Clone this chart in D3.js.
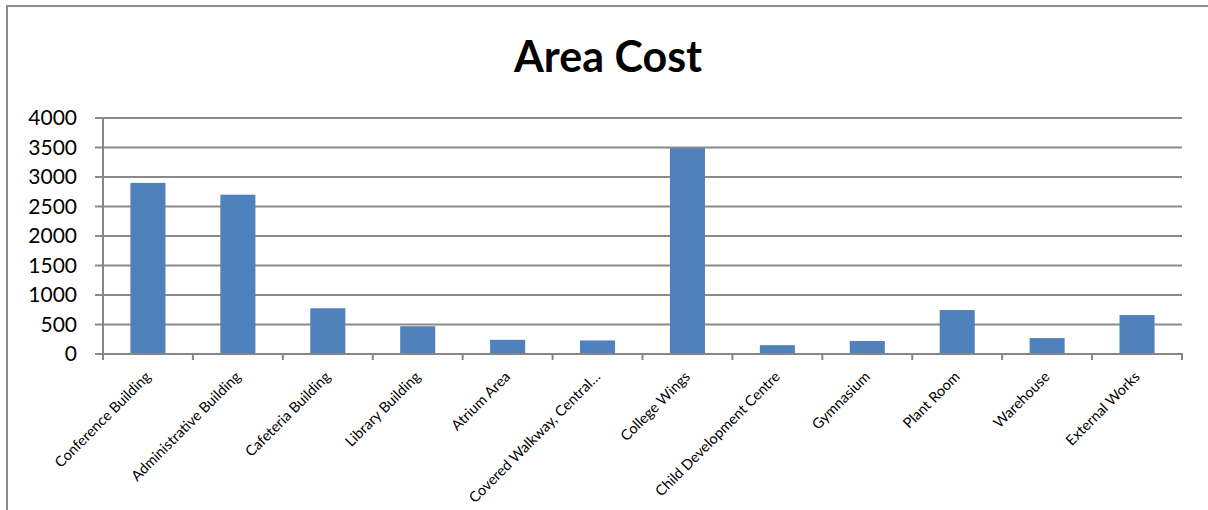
<!DOCTYPE html>
<html>
<head>
<meta charset="utf-8">
<script src="https://cdn.jsdelivr.net/npm/d3@7"></script>
<style>
  body { margin: 0; background: #fff; }
  text { font-family: Lato, "Open Sans", sans-serif; }
</style>
</head>
<body>
<div class="chart"></div>
<script>
var width = 1208,
    height = 510;

var categories = ["Conference Building", "Administrative Building", "Cafeteria Building",
  "Library Building", "Atrium Area", "Covered Walkway, Central\u2026", "College Wings",
  "Child Development Centre", "Gymnasium", "Plant Room", "Warehouse", "External Works"];
var costs = [2900, 2700, 775, 470, 240, 230, 3490, 150, 220, 745, 270, 660];
var yTicks = [0, 500, 1000, 1500, 2000, 2500, 3000, 3500, 4000];

var plotLeft = 103, plotRight = 1182, plotTop = 118, plotBottom = 354;

var svg = d3.select(".chart").append("svg")
    .attr("width", width)
    .attr("height", height);

// chart frame (only top and left edges are visible)
svg.append("path")
    .attr("d", "M7,510 V6 H1208")
    .style("fill", "none")
    .style("stroke", "#8c8c8c")
    .style("stroke-width", 2);

svg.append("text")
    .attr("x", 608)
    .attr("y", 72)
    .attr("text-anchor", "middle")
    .style("font-size", "43px")
    .style("font-weight", "bold")
    .text("Area Cost");

var x = d3.scaleBand()
    .domain(categories)
    .range([plotLeft, plotRight])
    .paddingInner(0.61)
    .paddingOuter(0.305);

var xTick = d3.scaleBand()
    .domain(categories)
    .range([plotLeft, plotRight]);

var y = d3.scaleLinear()
    .domain([0, 4000])
    .range([plotBottom, plotTop]);

// gridlines
svg.append("g")
    .selectAll("line")
    .data(yTicks)
    .join("line")
    .attr("x1", plotLeft - 8)
    .attr("x2", plotRight)
    .attr("y1", d => y(d))
    .attr("y2", d => y(d))
    .style("stroke", "#8a8a8a")
    .style("stroke-width", 2);

svg.append("g")
    .selectAll("text")
    .data(yTicks)
    .join("text")
    .attr("x", 77)
    .attr("y", d => y(d))
    .attr("dy", "0.35em")
    .attr("text-anchor", "end")
    .style("font-size", "21px")
    .text(d => d);

// bars
svg.append("g")
    .selectAll("rect")
    .data(costs)
    .join("rect")
    .attr("x", (d, i) => x(categories[i]))
    .attr("y", d => y(d))
    .attr("width", x.bandwidth())
    .attr("height", d => plotBottom - y(d))
    .style("fill", "#4f81bd");

// axes lines
svg.append("line")
    .attr("x1", plotLeft).attr("x2", plotLeft)
    .attr("y1", plotTop).attr("y2", plotBottom)
    .style("stroke", "#868686")
    .style("stroke-width", 2);

svg.append("line")
    .attr("x1", plotLeft).attr("x2", plotRight + 1)
    .attr("y1", plotBottom).attr("y2", plotBottom)
    .style("stroke", "#868686")
    .style("stroke-width", 2);

var tickX = categories.map(c => xTick(c)).concat([plotRight]);
svg.append("g")
    .selectAll("line")
    .data(tickX)
    .join("line")
    .attr("x1", d => d).attr("x2", d => d)
    .attr("y1", plotBottom).attr("y2", plotBottom + 6)
    .style("stroke", "#868686")
    .style("stroke-width", 2);

// rotated category labels
svg.append("g")
    .selectAll("text")
    .data(categories)
    .join("text")
    .attr("transform", d => "translate(" + (x(d) + x.bandwidth() / 2) + "," + (plotBottom + 20) + ") rotate(-45)")
    .attr("text-anchor", "end")
    .attr("dy", "0.35em")
    .style("font-size", "14.5px")
    .text(d => d);
</script>
</body>
</html>
